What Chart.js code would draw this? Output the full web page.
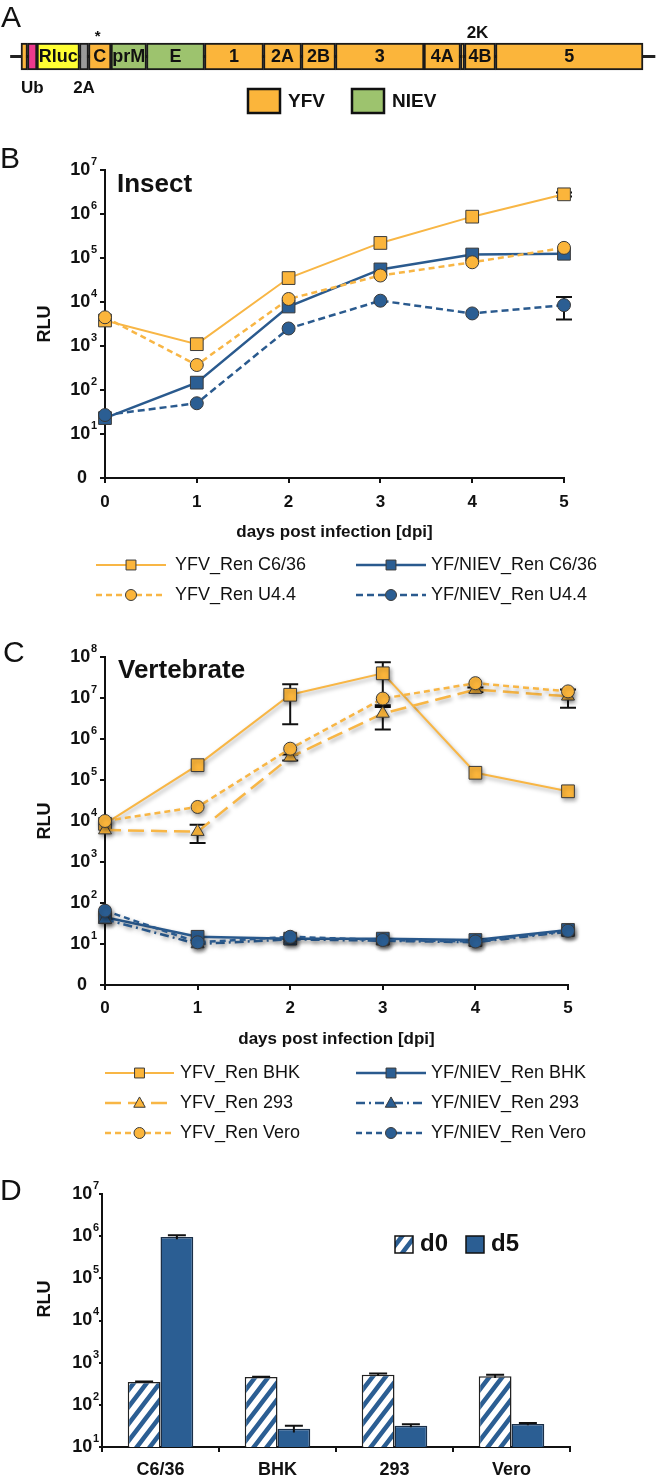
<!DOCTYPE html>
<html>
<head>
<meta charset="utf-8">
<script src="https://cdn.jsdelivr.net/npm/chart.js@4.4.0/dist/chart.umd.min.js"></script>
<style>
  html, body { margin: 0; padding: 0; background: #fff; }
  body { width: 656px; height: 1479px; position: relative; overflow: hidden; }
  .panel { position: absolute; left: 0; width: 656px; }
</style>
</head>
<body>
<div class="panel" style="top:0;height:125px"><canvas id="mapChart"></canvas></div>
<div class="panel" style="top:125px;height:485px"><canvas id="insectChart"></canvas></div>
<div class="panel" style="top:610px;height:540px"><canvas id="vertChart"></canvas></div>
<div class="panel" style="top:1150px;height:329px"><canvas id="barChart"></canvas></div>

<script>
/* =========================================================
   DATA
========================================================= */
// A: genome map (segment borders, arbitrary genome units)
const segNames = ['', '', 'Rluc', '', 'C', 'prM', 'E', '1', '2A', '2B', '3', '4A', '', '4B', '5'];
const segStart = [0, 6.5, 16, 58.5, 67.5, 90, 125.5, 183.5, 242.5, 280.5, 314.5, 403, 439.5, 443.5, 474.5];
const segEnd   = [6.5, 16, 58.5, 67.5, 90, 125.5, 183.5, 242.5, 280.5, 314.5, 403, 439.5, 443.5, 474.5, 622];
const segKind  = ['yfv', 'ub', 'rluc', 't2a', 'yfv', 'niev', 'niev', 'yfv', 'yfv', 'yfv', 'yfv', 'yfv', 'yfv', 'yfv', 'yfv'];
const backbone = [-10.5, 634];
const mapNotes = ['*', '2K', 'Ub', '2A'];
const mapNoteSeg = [4, 12, 1, 3];
const mapKeys = ['YFV', 'NIEV'];

// B: insect cells
const days = [0, 1, 2, 3, 4, 5];
const insectNames = ['YFV_Ren C6/36', 'YF/NIEV_Ren C6/36', 'YFV_Ren U4.4', 'YF/NIEV_Ren U4.4'];
const yfvC636  = [3800, 1100, 35000, 220000, 870000, 2800000];
const nievC636 = [23, 147, 7900, 55000, 120000, 125000];
const yfvU44   = [4500, 370, 11700, 40000, 80000, 170000];
const nievU44  = [27, 50, 2500, 10700, 5500, 8500];
const yfvC636Err  = [null, null, null, null, null, 300000];
const nievC636Err = [null, null, null, null, null, null];
const yfvU44Err   = [null, null, null, null, null, null];
const nievU44Err  = [null, null, null, null, null, 4500];
const insectTicks = [1, 1e1, 1e2, 1e3, 1e4, 1e5, 1e6, 1e7];

// C: vertebrate cells
const vertNames = ['YFV_Ren BHK', 'YF/NIEV_Ren BHK', 'YFV_Ren 293', 'YF/NIEV_Ren 293', 'YFV_Ren Vero', 'YF/NIEV_Ren Vero'];
const yfvBHK   = [8500, 230000, 12000000, 40000000, 150000, 53000];
const nievBHK  = [45, 15, 13.5, 13.5, 12.5, 22];
const yfv293   = [6000, 5500, 360000, 4200000, 16000000, 11000000];
const niev293  = [40, 10, 13, 12, 11, 20];
const yfvVero  = [10000, 22000, 580000, 9700000, 23000000, 14500000];
const nievVero = [65, 11, 15, 12.5, 11.5, 21];
const yfvBHKErr  = [null, null, 9700000, 34000000, null, null];
const yfv293Err  = [null, 2600, 60000, 2500000, 2000000, 5200000];
const noErr      = [null, null, null, null, null, null];
const vertTicks = [1, 1e1, 1e2, 1e3, 1e4, 1e5, 1e6, 1e7, 1e8];

// D: d0 vs d5
const cellLines = ['C6/36', 'BHK', '293', 'Vero'];
const d0Values = [350, 455, 520, 475];
const d0Err    = [8, 10, 30, 40];
const d5Values = [950000, 27, 32, 35];
const d5Err    = [100000, 5, 2.5, 2];
const barTicks = [1e1, 1e2, 1e3, 1e4, 1e5, 1e6, 1e7];

/* =========================================================
   STYLE
========================================================= */
const FONT = '"Liberation Sans", Arial, Helvetica, sans-serif';
const ORANGE = '#FBB53B';
const ORANGE_LINE = '#F8B645';
const BLUE = '#2B5E93';
const BLUE_LINE = '#2A5A8E';
const EDGE = '#3a3a3a';
const INK = '#111';
const kindColor = { yfv: ORANGE, ub: '#EC3A8C', rluc: '#FFFF33', t2a: '#9A9A9A', niev: '#9DC36E' };

Chart.defaults.font.family = FONT;
Chart.defaults.color = INK;
Chart.defaults.animation = false;

/* =========================================================
   HELPERS
========================================================= */
function drawMarker(ctx, style, x, y, r, fill) {
  ctx.beginPath();
  if (style === 'rect') {
    ctx.rect(x - r, y - r, 2 * r, 2 * r);
  } else if (style === 'triangle') {
    ctx.moveTo(x, y - r);
    ctx.lineTo(x + r * 0.95, y + r * 0.7);
    ctx.lineTo(x - r * 0.95, y + r * 0.7);
    ctx.closePath();
  } else {
    ctx.arc(x, y, r, 0, Math.PI * 2);
  }
  ctx.fillStyle = fill;
  ctx.fill();
  ctx.lineWidth = 1;
  ctx.strokeStyle = EDGE;
  ctx.stroke();
}

function drawPow(ctx, value, xr, y, size, zeroShift) {
  ctx.save();
  ctx.fillStyle = INK;
  ctx.textBaseline = 'middle';
  ctx.textAlign = 'right';
  if (value === 1) {
    ctx.font = `bold ${size}px ${FONT}`;
    ctx.fillText('0', xr - zeroShift, y);
    ctx.restore();
    return;
  }
  const exp = String(Math.round(Math.log10(value)));
  ctx.font = `bold ${Math.round(size * 0.62)}px ${FONT}`;
  const ew = ctx.measureText(exp).width;
  ctx.fillText(exp, xr, y - size * 0.45);
  ctx.font = `bold ${size}px ${FONT}`;
  ctx.fillText('10', xr - ew - 0.5, y);
  ctx.restore();
}

function texts(ctx, items) {
  items.forEach(t => {
    ctx.save();
    ctx.fillStyle = INK;
    ctx.font = t.font;
    ctx.textAlign = t.align || 'left';
    ctx.textBaseline = t.baseline || 'alphabetic';
    ctx.translate(t.x, t.y);
    if (t.rotate) ctx.rotate(t.rotate);
    ctx.fillText(t.text, 0, 0);
    ctx.restore();
  });
}

/* =========================================================
   PLUGINS
========================================================= */
const panelText = {
  id: 'panelText',
  afterDraw(chart) {
    const o = chart.options.plugins.panelText;
    if (o && o.items) texts(chart.ctx, o.items);
  }
};

const powTicks = {
  id: 'powTicks',
  afterDraw(chart) {
    const o = chart.options.plugins.powTicks;
    const s = chart.scales.y;
    s.ticks.forEach(t => drawPow(chart.ctx, t.value, s.right - o.gap, s.getPixelForValue(t.value), o.size, o.zeroShift));
  }
};

function drawErrors(chart) {
  const o = chart.options.plugins.errorBars;
  const ctx = chart.ctx;
  const ys = chart.scales.y;
  chart.data.datasets.forEach((ds, i) => {
    if (!ds.errors) return;
    const meta = chart.getDatasetMeta(i);
    meta.data.forEach((el, j) => {
      const e = ds.errors[j];
      if (e == null) return;
      const raw = ds.data[j];
      const v = typeof raw === 'object' ? raw.y : raw;
      const top = ys.getPixelForValue(v + e);
      const bot = ys.getPixelForValue(Math.max(v - e, ys.min));
      ctx.save();
      ctx.strokeStyle = INK;
      ctx.lineWidth = 2;
      ctx.beginPath();
      ctx.moveTo(el.x, top); ctx.lineTo(el.x, bot);
      ctx.moveTo(el.x - o.cap, top); ctx.lineTo(el.x + o.cap, top);
      if (o.lowCap) { ctx.moveTo(el.x - o.cap, bot); ctx.lineTo(el.x + o.cap, bot); }
      ctx.stroke();
      ctx.restore();
    });
  });
}

const errorBars = {
  id: 'errorBars',
  beforeDatasetsDraw(chart) { if (chart.options.plugins.errorBars.under) drawErrors(chart); },
  afterDatasetsDraw(chart) { if (!chart.options.plugins.errorBars.under) drawErrors(chart); }
};

const dropShadow = {
  id: 'dropShadow',
  beforeDatasetsDraw(chart) {
    const c = chart.ctx;
    c.save();
    c.shadowColor = 'rgba(0,0,0,0.35)';
    c.shadowBlur = 4;
    c.shadowOffsetX = 1.5;
    c.shadowOffsetY = 2.5;
  },
  afterDatasetsDraw(chart) { chart.ctx.restore(); }
};

const seriesKey = {
  id: 'seriesKey',
  afterDraw(chart) {
    const o = chart.options.plugins.seriesKey;
    const ctx = chart.ctx;
    chart.data.datasets.forEach((ds, k) => {
      const c = o.cols[k % 2];
      const y = o.rows[Math.floor(k / 2)];
      ctx.save();
      ctx.strokeStyle = ds.borderColor;
      ctx.lineWidth = ds.borderWidth;
      ctx.setLineDash(ds.borderDash || []);
      ctx.beginPath();
      ctx.moveTo(c[0], y); ctx.lineTo(c[1], y);
      ctx.stroke();
      ctx.setLineDash([]);
      const r = ds.pointStyle === 'rect' ? o.marker * 0.9 : ds.pointStyle === 'triangle' ? o.marker * 1.1 : o.marker;
      drawMarker(ctx, ds.pointStyle, (c[0] + c[1]) / 2, y, r, ds.pointBackgroundColor);
      ctx.fillStyle = INK;
      ctx.font = o.font;
      ctx.textBaseline = 'middle';
      ctx.fillText(ds.label, c[2], y);
      ctx.restore();
    });
  }
};

function series(label, values, errors, fill, line, style, dash, order, width) {
  return {
    label,
    data: days.map((d, i) => ({ x: d, y: values[i] })),
    errors,
    borderColor: line,
    borderWidth: width,
    borderDash: dash,
    backgroundColor: fill,
    pointBackgroundColor: fill,
    pointBorderColor: EDGE,
    pointBorderWidth: 1,
    pointStyle: style,
    pointRadius: style === 'rect' ? 9 : style === 'triangle' ? 7.5 : 6.5,
    tension: 0,
    clip: false,
    order
  };
}

function logAxis(ticks, min, max, width, titlePad, tickLen) {
  return {
    type: 'logarithmic',
    min, max,
    afterBuildTicks: s => { s.ticks = ticks.map(v => ({ value: v })); },
    afterFit: s => { s.width = width; },
    ticks: { display: false },
    grid: { drawOnChartArea: false, drawTicks: true, tickLength: tickLen, color: INK, lineWidth: 2 },
    border: { display: true, color: INK, width: 2 },
    title: titlePad == null ? { display: false } : {
      display: true, text: 'RLU', color: INK,
      font: { size: 18, weight: 'bold' },
      padding: { top: titlePad, bottom: 0 }
    }
  };
}

function dayAxis(height, pad) {
  return {
    type: 'linear',
    min: 0, max: 5,
    afterFit: s => { s.height = height; },
    ticks: { stepSize: 1, padding: pad, color: INK, font: { size: 17, weight: 'bold' } },
    grid: { drawOnChartArea: false, drawTicks: true, tickLength: 5, color: INK, lineWidth: 2 },
    border: { display: true, color: INK, width: 2 },
    title: {
      display: true, text: 'days post infection [dpi]', color: INK,
      font: { size: 17, weight: 'bold' },
      padding: { top: 0, bottom: 5 }
    }
  };
}

/* =========================================================
   A: GENOME MAP
========================================================= */
const mapLabels = {
  id: 'mapLabels',
  afterDatasetsDraw(chart) {
    const ctx = chart.ctx;
    const props = i => chart.getDatasetMeta(i).data[0].getProps(['x', 'y', 'base', 'height'], true);
    segNames.forEach((name, i) => {
      if (!name) return;
      const p = props(i);
      const l = Math.min(p.x, p.base), r = Math.max(p.x, p.base);
      ctx.save();
      ctx.beginPath();
      ctx.rect(l + 1, p.y - p.height / 2, r - l - 2, p.height);
      ctx.clip();
      ctx.fillStyle = INK;
      ctx.font = `bold 18px ${FONT}`;
      ctx.textAlign = 'center';
      ctx.textBaseline = 'middle';
      ctx.fillText(name, (l + r) / 2, p.y + 1);
      ctx.restore();
    });
    const o = chart.options.plugins.mapLabels;
    mapNotes.forEach((note, k) => {
      const p = props(mapNoteSeg[k]);
      const cx = (p.x + p.base) / 2 + o.dx[k];
      const y = o.above[k] ? p.y - p.height / 2 - o.gapAbove[k] : p.y + p.height / 2 + 18;
      ctx.save();
      ctx.fillStyle = INK;
      ctx.font = note === '*' ? `bold 15px ${FONT}` : `bold 17px ${FONT}`;
      ctx.textAlign = 'center';
      ctx.textBaseline = 'middle';
      ctx.fillText(note, cx, y);
      ctx.restore();
    });
    // key
    o.keys.forEach((k, i) => {
      ctx.save();
      ctx.fillStyle = kindColor[k.kind];
      ctx.fillRect(k.x, 89, 32, 24);
      ctx.lineWidth = 2.5;
      ctx.strokeStyle = INK;
      ctx.strokeRect(k.x, 89, 32, 24);
      ctx.fillStyle = INK;
      ctx.font = `bold 19px ${FONT}`;
      ctx.textBaseline = 'middle';
      ctx.fillText(mapKeys[i], k.x + 40, 102);
      ctx.restore();
    });
  }
};

const mapSets = segStart.map((s, i) => ({
  label: segNames[i] || segKind[i],
  data: [[s, segEnd[i]]],
  backgroundColor: kindColor[segKind[i]],
  borderColor: '#1a1a1a',
  borderWidth: 2,
  borderSkipped: false,
  barThickness: 27,
  grouped: false,
  order: 0
}));
mapSets.push({
  label: 'backbone',
  data: [backbone],
  backgroundColor: '#222',
  borderWidth: 0,
  barThickness: 2.5,
  grouped: false,
  order: 1
});

new Chart(document.getElementById('mapChart'), {
  type: 'bar',
  data: { labels: ['genome'], datasets: mapSets },
  plugins: [mapLabels, panelText],
  options: {
    indexAxis: 'y',
    responsive: true,
    maintainAspectRatio: false,
    layout: { padding: { top: 0, bottom: 12, left: 0, right: 0 } },
    scales: {
      x: { type: 'linear', min: -21, max: 635, display: false },
      y: { display: false }
    },
    plugins: {
      legend: { display: false },
      tooltip: { enabled: false },
      mapLabels: {
        dx: [-2, 15, 0, 0],
        above: [true, true, false, false],
        gapAbove: [6, 10, 0, 0],
        keys: [{ kind: 'yfv', x: 248 }, { kind: 'niev', x: 352 }]
      },
      panelText: { items: [{ text: 'A', x: 1, y: 27, font: `30px ${FONT}` }] }
    }
  }
});

/* =========================================================
   B: INSECT
========================================================= */
new Chart(document.getElementById('insectChart'), {
  type: 'line',
  data: {
    datasets: [
      series(insectNames[0], yfvC636, yfvC636Err, ORANGE, ORANGE_LINE, 'rect', [], 1, 2),
      series(insectNames[1], nievC636, nievC636Err, BLUE, BLUE_LINE, 'rect', [], 1, 2.5),
      series(insectNames[2], yfvU44, yfvU44Err, ORANGE, ORANGE_LINE, 'circle', [6, 4], 0, 2.5),
      series(insectNames[3], nievU44, nievU44Err, BLUE, BLUE_LINE, 'circle', [7, 4], 0, 2.5)
    ]
  },
  plugins: [errorBars, powTicks, seriesKey, panelText],
  options: {
    responsive: true,
    maintainAspectRatio: false,
    layout: { padding: { top: 45, right: 92, left: 0, bottom: 62 } },
    scales: {
      x: dayAxis(70, 9),
      y: logAxis(insectTicks, 1, 1e7, 105, 34, 5)
    },
    plugins: {
      legend: { display: false },
      tooltip: { enabled: false },
      errorBars: { under: true, cap: 8, lowCap: true },
      powTicks: { size: 18, gap: 8, zeroShift: 10 },
      seriesKey: {
        cols: [[96, 166, 175], [356, 426, 431]],
        rows: [440, 470],
        marker: 5.5,
        font: `18px ${FONT}`
      },
      panelText: {
        items: [
          { text: 'B', x: 0, y: 43, font: `30px ${FONT}` },
          { text: 'Insect', x: 117, y: 67, font: `bold 26px ${FONT}` }
        ]
      }
    }
  }
});

/* =========================================================
   C: VERTEBRATE
========================================================= */
new Chart(document.getElementById('vertChart'), {
  type: 'line',
  data: {
    datasets: [
      series(vertNames[0], yfvBHK, yfvBHKErr, ORANGE, ORANGE_LINE, 'rect', [], 2, 2),
      series(vertNames[1], nievBHK, noErr, BLUE, BLUE_LINE, 'rect', [], 2, 2.5),
      series(vertNames[2], yfv293, yfv293Err, ORANGE, ORANGE_LINE, 'triangle', [16, 7], 1, 2.5),
      series(vertNames[3], niev293, noErr, BLUE, BLUE_LINE, 'triangle', [9, 4, 2, 4], 1, 2.5),
      series(vertNames[4], yfvVero, noErr, ORANGE, ORANGE_LINE, 'circle', [6, 4], 0, 2.5),
      series(vertNames[5], nievVero, noErr, BLUE, BLUE_LINE, 'circle', [6, 4], 0, 2.5)
    ]
  },
  plugins: [errorBars, dropShadow, powTicks, seriesKey, panelText],
  options: {
    responsive: true,
    maintainAspectRatio: false,
    layout: { padding: { top: 47, right: 88, left: 0, bottom: 95 } },
    scales: {
      x: dayAxis(70, 8),
      y: logAxis(vertTicks, 1, 1e8, 105, 34, 5)
    },
    plugins: {
      legend: { display: false },
      tooltip: { enabled: false },
      errorBars: { under: true, cap: 8, lowCap: true },
      powTicks: { size: 18, gap: 8, zeroShift: 10 },
      seriesKey: {
        cols: [[105, 174, 180], [356, 426, 431]],
        rows: [463, 493, 523],
        marker: 5.5,
        font: `18px ${FONT}`
      },
      panelText: {
        items: [
          { text: 'C', x: 3, y: 52, font: `30px ${FONT}` },
          { text: 'Vertebrate', x: 118, y: 68, font: `bold 26px ${FONT}` }
        ]
      }
    }
  }
});

/* =========================================================
   D: BARS
========================================================= */
function hatch(ctx) {
  const w = 13, h = 17;
  const tile = document.createElement('canvas');
  tile.width = w; tile.height = h;
  const g = tile.getContext('2d');
  g.fillStyle = '#fff';
  g.fillRect(0, 0, w, h);
  g.strokeStyle = BLUE;
  g.lineWidth = 4.5;
  g.beginPath();
  for (let k = -1; k <= 2; k++) {
    g.moveTo(k * w - w * 0.5, h * 1.5);
    g.lineTo(k * w + w * 1.5, -h * 0.5);
  }
  g.stroke();
  return ctx.createPattern(tile, 'repeat');
}

const barCanvas = document.getElementById('barChart');
const stripes = hatch(barCanvas.getContext('2d'));

const barKey = {
  id: 'barKey',
  afterDraw(chart) {
    const ctx = chart.ctx;
    chart.data.datasets.forEach((ds, i) => {
      const x = [395, 466][i];
      ctx.save();
      ctx.fillStyle = ds.backgroundColor;
      ctx.fillRect(x, 86, 18, 17);
      ctx.lineWidth = 1.5;
      ctx.strokeStyle = INK;
      ctx.strokeRect(x, 86, 18, 17);
      ctx.fillStyle = INK;
      ctx.font = `bold 24px ${FONT}`;
      ctx.textBaseline = 'alphabetic';
      ctx.fillText(ds.label, x + 25, 101);
      ctx.restore();
    });
  }
};

new Chart(barCanvas, {
  type: 'bar',
  data: {
    labels: cellLines,
    datasets: [
      { label: 'd0', data: d0Values, errors: d0Err, backgroundColor: stripes, borderColor: '#222', borderWidth: 1.5 },
      { label: 'd5', data: d5Values, errors: d5Err, backgroundColor: BLUE, borderColor: '#1b2f48', borderWidth: 1.5 }
    ]
  },
  plugins: [errorBars, powTicks, barKey, panelText],
  options: {
    responsive: true,
    maintainAspectRatio: false,
    categoryPercentage: 0.56,
    barPercentage: 1.0,
    layout: { padding: { top: 44, right: 86, left: 0, bottom: 0 } },
    scales: {
      x: {
        afterFit: s => { s.height = 32; },
        ticks: { padding: 7, color: INK, font: { size: 18, weight: 'bold' } },
        grid: { offset: true, drawOnChartArea: false, drawTicks: true, tickLength: 5, color: INK, lineWidth: 2 },
        border: { display: true, color: INK, width: 2 }
      },
      y: logAxis(barTicks, 10, 1e7, 102, null, 3)
    },
    plugins: {
      legend: { display: false },
      tooltip: { enabled: false },
      errorBars: { under: false, cap: 9, lowCap: false },
      powTicks: { size: 18, gap: 3, zeroShift: 10 },
      panelText: {
        items: [
          { text: 'D', x: 0, y: 50, font: `30px ${FONT}` },
          { text: 'RLU', x: 45, y: 149, font: `bold 18px ${FONT}`, align: 'center', baseline: 'middle', rotate: -Math.PI / 2 }
        ]
      }
    }
  }
});
</script>
</body>
</html>
